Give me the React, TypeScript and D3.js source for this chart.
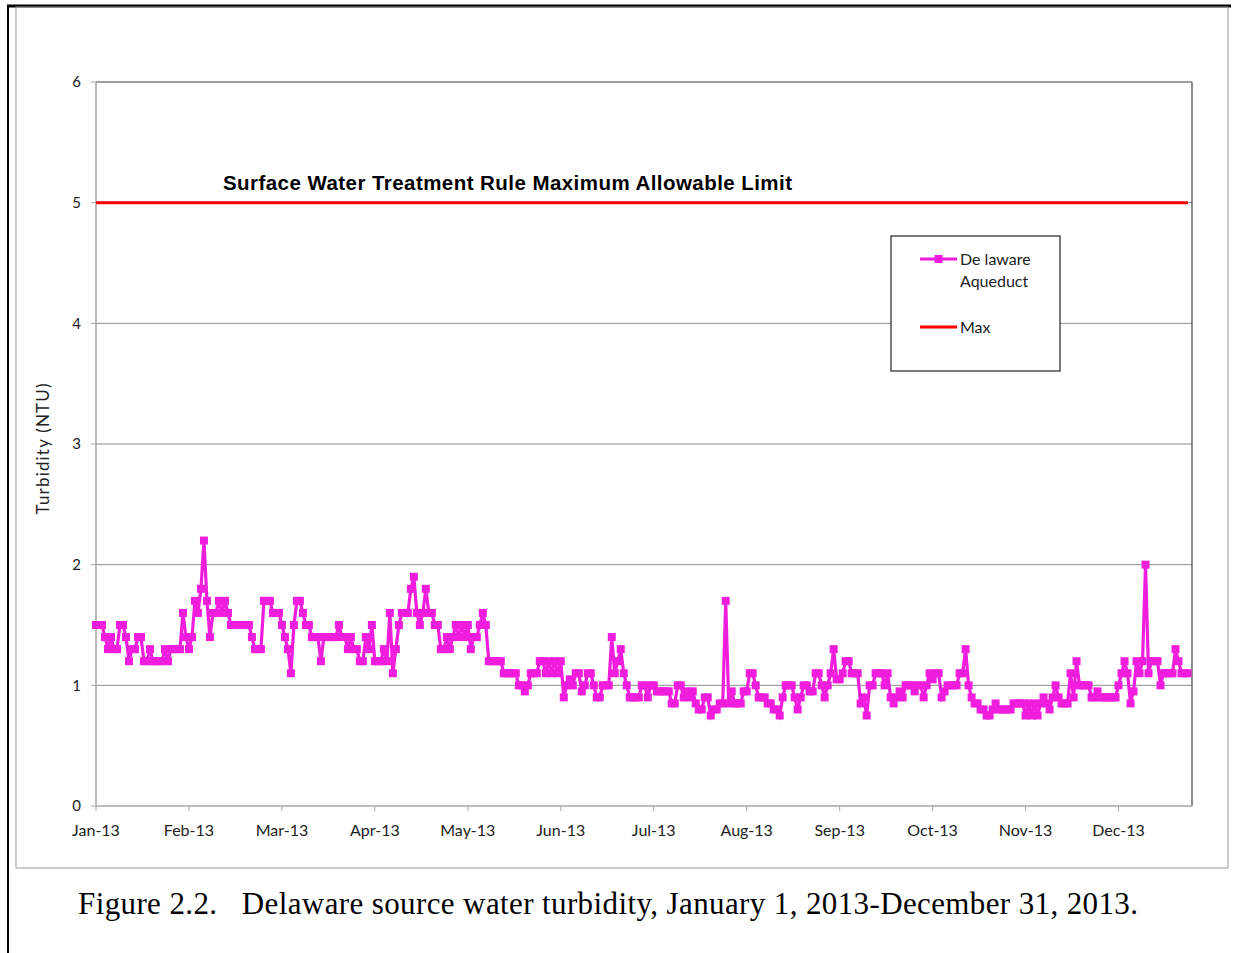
import React from "react";
import * as d3 from "d3";

// Daily source-water turbidity (NTU), Delaware Aqueduct, Jan 1 – Dec 31 2013 — one array per month
const jan = [1.5, 1.5, 1.5, 1.4, 1.3, 1.4, 1.3, 1.3, 1.5, 1.5, 1.4, 1.2, 1.3, 1.3, 1.4, 1.4, 1.2, 1.2, 1.3, 1.2, 1.2, 1.2, 1.2, 1.3, 1.2, 1.3, 1.3, 1.3, 1.3, 1.6, 1.4];
const feb = [1.3, 1.4, 1.7, 1.6, 1.8, 2.2, 1.7, 1.4, 1.6, 1.6, 1.7, 1.6, 1.7, 1.6, 1.5, 1.5, 1.5, 1.5, 1.5, 1.5, 1.5, 1.4, 1.3, 1.3, 1.3, 1.7, 1.7, 1.7];
const mar = [1.6, 1.6, 1.6, 1.5, 1.4, 1.3, 1.1, 1.5, 1.7, 1.7, 1.6, 1.5, 1.5, 1.4, 1.4, 1.4, 1.2, 1.4, 1.4, 1.4, 1.4, 1.4, 1.5, 1.4, 1.4, 1.3, 1.4, 1.3, 1.3, 1.2, 1.2];
const apr = [1.4, 1.3, 1.5, 1.2, 1.2, 1.2, 1.3, 1.2, 1.6, 1.1, 1.3, 1.5, 1.6, 1.6, 1.6, 1.8, 1.9, 1.6, 1.5, 1.6, 1.8, 1.6, 1.6, 1.5, 1.5, 1.3, 1.3, 1.4, 1.3, 1.4];
const may = [1.5, 1.4, 1.5, 1.4, 1.5, 1.3, 1.4, 1.4, 1.5, 1.6, 1.5, 1.2, 1.2, 1.2, 1.2, 1.2, 1.1, 1.1, 1.1, 1.1, 1.1, 1.0, 1.0, 0.95, 1.0, 1.1, 1.1, 1.1, 1.2, 1.2, 1.1];
const jun = [1.2, 1.1, 1.2, 1.1, 1.2, 0.9, 1.0, 1.05, 1.0, 1.1, 1.1, 0.95, 1.0, 1.1, 1.1, 1.0, 0.9, 0.9, 1.0, 1.0, 1.0, 1.4, 1.1, 1.2, 1.3, 1.1, 1.0, 0.9, 0.9, 0.9];
const jul = [0.9, 1.0, 1.0, 0.9, 1.0, 1.0, 0.95, 0.95, 0.95, 0.95, 0.95, 0.85, 0.85, 1.0, 1.0, 0.9, 0.95, 0.9, 0.95, 0.85, 0.8, 0.8, 0.9, 0.9, 0.75, 0.8, 0.8, 0.85, 0.85, 1.7, 0.85];
const aug = [0.95, 0.85, 0.85, 0.85, 0.95, 0.95, 1.1, 1.1, 1.0, 0.9, 0.9, 0.9, 0.85, 0.85, 0.8, 0.8, 0.75, 0.9, 1.0, 1.0, 1.0, 0.9, 0.8, 0.9, 1.0, 1.0, 0.95, 0.95, 1.1, 1.1, 1.0];
const sep = [0.9, 1.0, 1.1, 1.3, 1.05, 1.05, 1.1, 1.2, 1.2, 1.1, 1.1, 1.1, 0.85, 0.9, 0.75, 1.0, 1.0, 1.1, 1.1, 1.1, 1.0, 1.1, 0.9, 0.85, 0.9, 0.95, 0.9, 1.0, 1.0, 1.0];
const oct = [0.95, 1.0, 1.0, 0.9, 1.0, 1.1, 1.05, 1.1, 1.1, 0.9, 0.95, 1.0, 1.0, 1.0, 1.0, 1.1, 1.1, 1.3, 1.0, 0.9, 0.85, 0.85, 0.8, 0.8, 0.75, 0.75, 0.8, 0.85, 0.8, 0.8, 0.8];
const nov = [0.8, 0.8, 0.85, 0.85, 0.85, 0.85, 0.75, 0.85, 0.75, 0.85, 0.75, 0.85, 0.9, 0.85, 0.8, 0.9, 1.0, 0.9, 0.85, 0.85, 0.85, 1.1, 0.9, 1.2, 1.0, 1.0, 1.0, 1.0, 0.9, 0.9];
const dec = [0.95, 0.9, 0.9, 0.9, 0.9, 0.9, 0.9, 1.0, 1.1, 1.2, 1.1, 0.85, 0.95, 1.2, 1.1, 1.2, 2.0, 1.1, 1.2, 1.2, 1.2, 1.0, 1.1, 1.1, 1.1, 1.1, 1.3, 1.2, 1.1, 1.1, 1.1];

const monthly = [jan, feb, mar, apr, may, jun, jul, aug, sep, oct, nov, dec];

// Regulatory limit (Surface Water Treatment Rule)
const maxLimit = 5;
const yTicks = [0, 1, 2, 3, 4, 5, 6];
// category axis: a label every 31 days
const labelInterval = 31;

const titleText = "Surface Water Treatment Rule Maximum Allowable Limit";
const seriesName = ["De laware", "Aqueduct"];
const limitName = "Max";
const yAxisTitle = "Turbidity (NTU)";
const caption = "Figure 2.2.   Delaware source water turbidity, January 1, 2013-December 31, 2013.";

const startDate = new Date(Date.UTC(2013, 0, 1));

const MAGENTA = "#F01EDC";
const RED = "#FF0000";
const FONT = "Lato, 'Open Sans', sans-serif";

export default function App() {
  const series = monthly.flat().map((v, i) => ({
    i,
    date: d3.utcDay.offset(startDate, i),
    value: v,
  }));

  const plot = { left: 96, right: 1192, top: 82, bottom: 806 };

  const x = d3.scaleLinear().domain([0, 365.5]).range([plot.left, plot.right]);
  const y = d3.scaleLinear().domain([0, 6]).range([plot.bottom, plot.top]);

  const tickIdx = d3.range(0, series.length, labelInterval);
  const fmt = d3.utcFormat("%b-%y");

  const line = d3
    .line<{ i: number; value: number }>()
    .x((d) => x(d.i))
    .y((d) => y(d.value));

  const mk = 8;

  return (
    <svg
      width={1235}
      height={953}
      style={{ position: "absolute", left: 0, top: 0, background: "#fff" }}
    >
      <rect x={0} y={0} width={1235} height={953} fill="#fff" />
      {/* page rules */}
      <line x1={7} y1={6} x2={1231} y2={6} stroke="#000" strokeWidth={3} />
      <line x1={8} y1={5} x2={8} y2={953} stroke="#000" strokeWidth={2} />
      {/* chart area border */}
      <rect x={16} y={7} width={1212} height={861} fill="none" stroke="#9a9a9a" strokeWidth={1} />

      {/* gridlines */}
      {yTicks.slice(1, -1).map((t) => (
        <line key={t} x1={plot.left} x2={plot.right} y1={y(t)} y2={y(t)} stroke="#8c8c8c" strokeWidth={1} />
      ))}
      {/* plot area frame */}
      <line x1={plot.left} x2={plot.right} y1={plot.top} y2={plot.top} stroke="#404040" strokeWidth={1.2} />
      <line x1={plot.right} x2={plot.right} y1={plot.top} y2={plot.bottom} stroke="#404040" strokeWidth={1.2} />
      <line x1={plot.left} x2={plot.left} y1={plot.top} y2={plot.bottom} stroke="#a6a6a6" strokeWidth={1.5} />
      <line x1={plot.left} x2={plot.right} y1={plot.bottom} y2={plot.bottom} stroke="#a6a6a6" strokeWidth={1.5} />

      {/* y axis ticks and labels */}
      {yTicks.map((t) => (
        <g key={t}>
          <line x1={plot.left - 5} x2={plot.left} y1={y(t)} y2={y(t)} stroke="#a6a6a6" strokeWidth={1} />
          <text x={81} y={y(t)} dy="0.35em" textAnchor="end" fontFamily={FONT} fontSize={15} fill="#222">
            {t}
          </text>
        </g>
      ))}
      <text
        transform={`translate(49, 449) rotate(-90)`}
        textAnchor="middle"
        fontFamily={FONT}
        fontSize={17}
        fill="#222"
        textLength={131}
        lengthAdjust="spacing"
      >
        {yAxisTitle}
      </text>

      {/* x axis ticks and labels */}
      {tickIdx.map((j) => (
        <g key={j}>
          <line x1={x(j)} x2={x(j)} y1={plot.bottom} y2={plot.bottom + 5} stroke="#a6a6a6" strokeWidth={1} />
          <text x={x(j)} y={836} textAnchor="middle" fontFamily={FONT} fontSize={16} fill="#222">
            {fmt(series[j].date)}
          </text>
        </g>
      ))}

      {/* regulatory limit */}
      <line x1={plot.left} x2={plot.right - 4} y1={y(maxLimit)} y2={y(maxLimit)} stroke={RED} strokeWidth={3} />
      <text
        x={223}
        y={189.5}
        fontFamily="'Liberation Sans', Arial, sans-serif"
        fontWeight="bold"
        fontSize={20.5}
        fill="#000"
        textLength={569}
        lengthAdjust="spacing"
      >
        {titleText}
      </text>

      {/* turbidity series */}
      <path d={line(series) ?? ""} fill="none" stroke={MAGENTA} strokeWidth={3.2} />
      {series.map((d) => (
        <rect key={d.i} x={x(d.i) - mk / 2} y={y(d.value) - mk / 2} width={mk} height={mk} fill={MAGENTA} />
      ))}

      {/* legend */}
      <rect x={891} y={236} width={169} height={135} fill="#fff" stroke="#222" strokeWidth={1.2} />
      <line x1={920} x2={957} y1={259} y2={259} stroke={MAGENTA} strokeWidth={3} />
      <rect x={938.5 - mk / 2} y={259 - mk / 2} width={mk} height={mk} fill={MAGENTA} />
      <text x={960} y={265} fontFamily={FONT} fontSize={16} fill="#222">
        {seriesName[0]}
      </text>
      <text x={960} y={287} fontFamily={FONT} fontSize={16} fill="#222">
        {seriesName[1]}
      </text>
      <line x1={920} x2={957} y1={327} y2={327} stroke={RED} strokeWidth={3} />
      <text x={960} y={333} fontFamily={FONT} fontSize={16} fill="#222">
        {limitName}
      </text>

      {/* caption */}
      <text
        x={78}
        y={914}
        fontFamily="'Liberation Serif', 'Times New Roman', serif"
        fontSize={31}
        fill="#000"
        style={{ whiteSpace: "pre" }}
        textLength={1060}
        lengthAdjust="spacing"
      >
        {caption}
      </text>
    </svg>
  );
}
